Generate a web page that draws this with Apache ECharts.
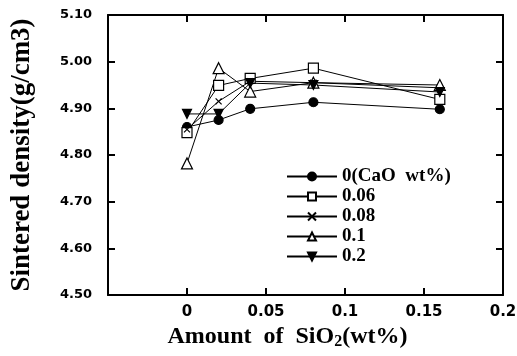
<!DOCTYPE html>
<html><head><meta charset="utf-8">
<script src="https://cdn.jsdelivr.net/npm/echarts@6/dist/echarts.min.js"></script>
<style>html,body{margin:0;padding:0;background:#fff}#c{width:517px;height:356px}</style>
</head><body><div id="c"></div>
<script>
const sio2 = [0, 0.02, 0.04, 0.08, 0.16];
const seriesNames = ['0(CaO  wt%)', '0.06', '0.08', '0.1', '0.2'];
const cao0 = [4.86, 4.875, 4.899, 4.913, 4.898];
const cao006 = [4.848, 4.949, 4.964, 4.986, 4.919];
const cao008 = [4.855, 4.915, 4.958, 4.955, 4.944];
const cao01 = [4.782, 4.986, 4.936, 4.955, 4.95];
const cao02 = [4.888, 4.888, 4.954, 4.95, 4.935];
const xTicks = [0, 0.05, 0.1, 0.15, 0.2];

const allValues = [cao0, cao006, cao008, cao01, cao02];
const symbols = ['circle', 'rect', 'path://M0,0L10,10M10,0L0,10', 'triangle', 'triangle'];
const fills = ['#000', '#fff', 'none', '#fff', '#000'];
const sizes = [9, 10, 6, 11, 9];
const rotates = [0, 0, 0, 0, 180];

const chart = echarts.init(document.getElementById('c'));
const serif = '"Liberation Serif", "Times New Roman", serif';
const sans = '"DejaVu Sans", Arial, sans-serif';

function axisCommon(pos) {
  return {
    position: pos,
    axisLine: {show: true, onZero: false, lineStyle: {color: '#000', width: 2}},
    axisTick: {show: true, inside: true, length: 7, lineStyle: {color: '#000', width: 2}},
    minorTick: {show: false},
    splitLine: {show: false}
  };
}

chart.setOption({
  animation: false,
  backgroundColor: '#fff',
  grid: {left: 108, top: 15, right: 14, bottom: 61, outerBoundsMode: 'none', containLabel: false},
  legend: {
    orient: 'vertical', left: 281, top: 162, itemGap: 1,
    itemWidth: 50, itemHeight: 10,
    textStyle: {fontFamily: serif, fontWeight: 'bold', fontSize: 19, color: '#000'},
    data: seriesNames
  },
  xAxis: [
    Object.assign(axisCommon('bottom'), {
      type: 'value', min: -0.05, max: 0.2, interval: 0.05,
      axisLabel: {
        margin: 10, color: '#000', fontFamily: sans, fontWeight: 'bold', fontSize: 15,
        formatter: v => v < -0.001 ? '' : String(+v.toFixed(2))
      },
      name: 'Amount  of  SiO{sub|2}(wt%)', nameLocation: 'middle', nameGap: 23,
      nameTextStyle: {fontFamily: serif, fontWeight: 'bold', fontSize: 24, color: '#000',
        padding: [0, 36, 0, 0],
        rich: {sub: {fontFamily: serif, fontWeight: 'bold', fontSize: 16, color: '#000', verticalAlign: 'bottom', padding: [10, 0, 0, 0]}}}
    }),
    Object.assign(axisCommon('top'), {
      type: 'value', min: -0.05, max: 0.2, interval: 0.05,
      axisLabel: {show: false}
    })
  ],
  yAxis: [
    Object.assign(axisCommon('left'), {
      type: 'value', min: 4.5, max: 5.1, interval: 0.1,
      axisLabel: {margin: 16, color: '#000', fontFamily: sans, fontWeight: 'bold', fontSize: 13,
        formatter: v => v.toFixed(2)},
      name: 'Sintered density(g/cm3)', nameLocation: 'middle', nameGap: 72, nameRotate: 90,
      nameTextStyle: {fontFamily: serif, fontWeight: 'bold', fontSize: 27, color: '#000'}
    }),
    Object.assign(axisCommon('right'), {
      type: 'value', min: 4.5, max: 5.1, interval: 0.1,
      axisLabel: {show: true, color: 'rgba(0,0,0,0)', fontSize: 8, margin: 2}
    })
  ],
  series: allValues.map((vals, i) => ({
    name: seriesNames[i],
    type: 'line',
    xAxisIndex: 0, yAxisIndex: 0,
    data: sio2.map((x, j) => [x, vals[j]]),
    symbol: symbols[i],
    symbolSize: sizes[i],
    symbolRotate: rotates[i],
    showAllSymbol: true,
    lineStyle: {color: '#000', width: 1},
    itemStyle: {color: fills[i], borderColor: '#000', borderWidth: 1.2},
    emphasis: {disabled: true}
  }))
});
</script></body></html>
